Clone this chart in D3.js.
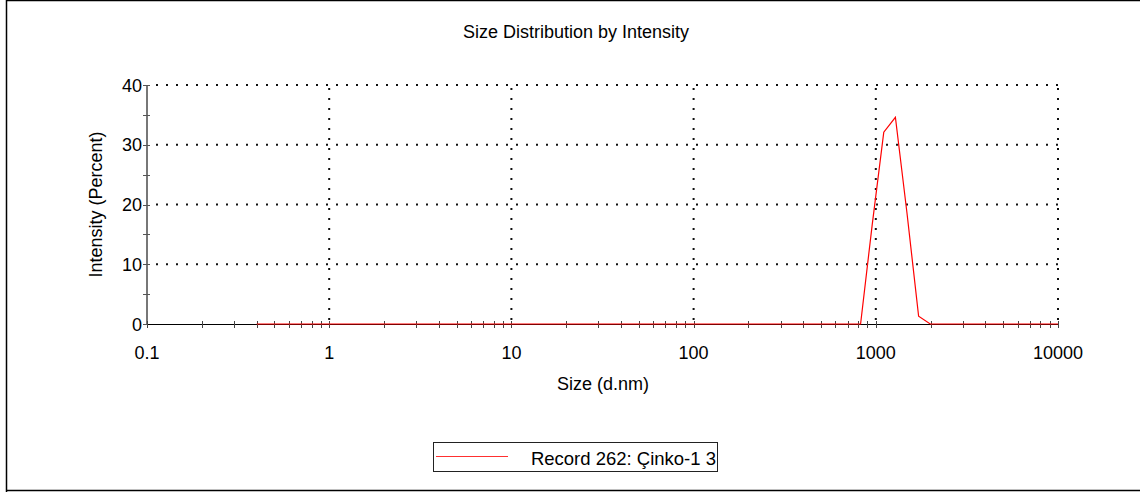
<!DOCTYPE html>
<html>
<head>
<meta charset="utf-8">
<script src="https://cdn.jsdelivr.net/npm/d3@7"></script>
<style>
  html, body { margin: 0; padding: 0; background: #fff; }
  svg { display: block; }
  text { font-family: Arial, "Liberation Sans", sans-serif; fill: #000; }
</style>
</head>
<body>
<script>
// Size distribution (d.nm) vs intensity (%)
const sizes     = [0.4, 825, 955.4, 1106, 1281, 1484, 1718, 1990, 10000];
const intensity = [0,   0,   16.6,  32.1, 34.6, 18.5, 1.3,  0,    0];
const xTicks = [0.1, 1, 10, 100, 1000, 10000];
const yTicks = [0, 10, 20, 30, 40];
const yMinor = [5, 15, 25, 35];
const seriesName = "Record 262: Çinko-1 3";

const W = 1140, H = 492;
const plotL = 147, plotR = 1058, plotT = 85, plotB = 324;
const FS = "18px";

const svg = d3.select("body").append("svg").attr("width", W).attr("height", H);

// outer frame
svg.append("path")
  .attr("d", `M6.5,${H} V0.5 H${W} M6.5,490.5 H${W}`)
  .attr("fill", "none").attr("stroke", "#000").attr("stroke-width", 1.5);

const x = d3.scaleLog().domain([0.1, 10000]).range([plotL, plotR]);
const y = d3.scaleLinear().domain([0, 40]).range([plotB, plotT]);

// title
svg.append("text").attr("x", 576).attr("y", 38).attr("text-anchor", "middle")
  .style("font-size", FS).text("Size Distribution by Intensity");

// dotted grid
const grid = svg.append("g").attr("stroke", "#111").attr("stroke-width", 2)
  .attr("stroke-dasharray", "2 8");
grid.selectAll("line.h").data(yTicks.filter(d => d > 0)).join("line")
  .attr("x1", plotL + 9).attr("x2", plotR).attr("y1", d => y(d)).attr("y2", d => y(d));
grid.selectAll("line.v").data(xTicks.filter(d => d > 0.1)).join("line")
  .attr("x1", d => x(d)).attr("x2", d => x(d)).attr("y1", plotB - 4).attr("y2", plotT);

// y axis
svg.append("line").attr("x1", plotL).attr("x2", plotL).attr("y1", plotT).attr("y2", plotB)
  .attr("stroke", "#777").attr("stroke-width", 2);
svg.append("g").selectAll("line").data(yTicks.concat(yMinor)).join("line")
  .attr("x1", plotL - 4).attr("x2", plotL + 3)
  .attr("y1", d => Math.round(y(d)) + 0.5).attr("y2", d => Math.round(y(d)) + 0.5)
  .attr("stroke", "#555").attr("stroke-width", 1);
svg.append("g").selectAll("text").data(yTicks).join("text")
  .attr("x", plotL - 5).attr("y", d => y(d) + 6.5).attr("text-anchor", "end")
  .style("font-size", FS).text(d => d);
svg.append("text").attr("transform", `translate(102,${(plotT + plotB) / 2}) rotate(-90)`)
  .attr("text-anchor", "middle").style("font-size", FS).text("Intensity (Percent)");

// x axis
svg.append("line").attr("x1", plotL).attr("x2", plotR).attr("y1", plotB + 0.5).attr("y2", plotB + 0.5)
  .attr("stroke", "#000").attr("stroke-width", 1);
const allTicks = x.ticks();
svg.append("g").selectAll("line").data(allTicks).join("line")
  .attr("x1", d => Math.round(x(d)) + 0.5).attr("x2", d => Math.round(x(d)) + 0.5)
  .attr("y1", plotB - 3).attr("y2", plotB + 4)
  .attr("stroke", "#444").attr("stroke-width", 1);
svg.append("g").selectAll("text").data(xTicks).join("text")
  .attr("x", d => x(d)).attr("y", plotB + 35).attr("text-anchor", "middle")
  .style("font-size", FS).text(d => d);
svg.append("text").attr("x", 603).attr("y", 390).attr("text-anchor", "middle")
  .style("font-size", FS).text("Size (d.nm)");

// series
const pts = sizes.map((s, i) => [s, intensity[i]]);
svg.append("path").datum(pts)
  .attr("fill", "none").attr("stroke", "#ff0000").attr("stroke-width", 1.2)
  .attr("d", d3.line().x(d => x(d[0])).y(d => y(d[1])));

// legend
const lg = svg.append("g");
lg.append("rect").attr("x", 433.5).attr("y", 442.5).attr("width", 284).attr("height", 29)
  .attr("fill", "#fff").attr("stroke", "#222").attr("stroke-width", 1);
lg.append("line").attr("x1", 436).attr("x2", 508).attr("y1", 456.5).attr("y2", 456.5)
  .attr("stroke", "#ff3030").attr("stroke-width", 1.2);
lg.append("text").attr("x", 716).attr("y", 465).attr("text-anchor", "end")
  .style("font-size", "18.5px").text(seriesName);
</script>
</body>
</html>
